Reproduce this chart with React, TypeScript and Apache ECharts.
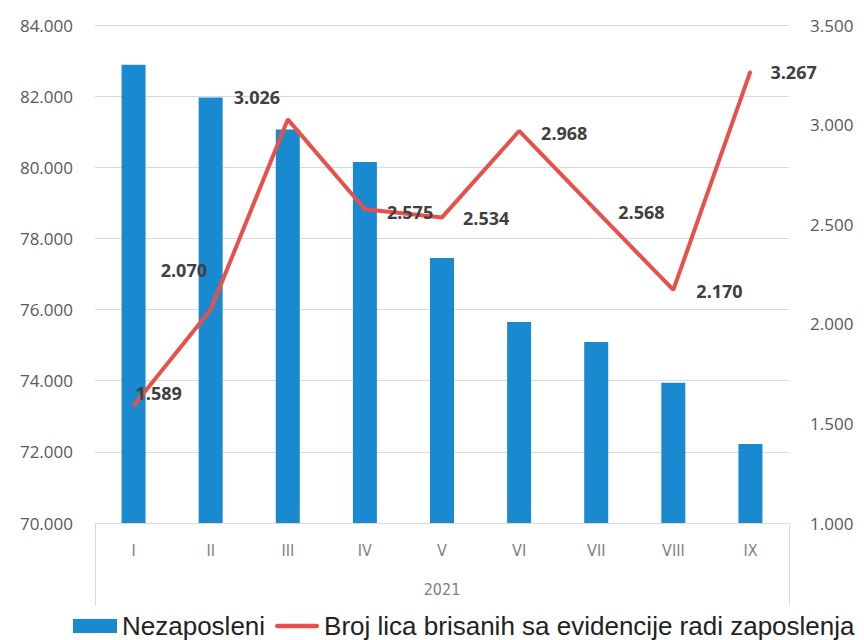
import React, { useEffect, useRef } from "react";
import * as echarts from "echarts";

const months = ["I", "II", "III", "IV", "V", "VI", "VII", "VIII", "IX"];
const yearLabel = ["2021"];
const unemployed = [82880, 81960, 81060, 80150, 77450, 75650, 75090, 73940, 72220];
const removedForEmployment = [1589, 2070, 3026, 2575, 2534, 2968, 2568, 2170, 3267];
const labelOffsets: [number, number][] = [
  [1, -13], [-51, -40], [-55, -22], [21, 3], [20, 1], [21, 2], [21, 1], [22, 1], [19, 1],
];

const fmt = (v: number) => (v / 1000).toFixed(3);

export default function App() {
  const ref = useRef<HTMLDivElement>(null);
  useEffect(() => {
    if (!ref.current) return;
    const chart = echarts.init(ref.current, undefined, { renderer: "svg" });
    const axisFont = { fontFamily: "Open Sans", fontSize: 17, color: "#595959" };
    const catFont = { fontFamily: "DejaVu Sans Condensed, Liberation Sans, sans-serif", fontSize: 16, color: "#7f7f7f" };
    chart.setOption({
      animation: false,
      backgroundColor: "#ffffff",
      grid: { left: 95, right: 75, top: 25, bottom: 117 },
      legend: {
        left: 68,
        top: 608,
        itemWidth: 44,
        itemHeight: 14,
        itemGap: 10,
        textStyle: { fontFamily: "Liberation Sans", fontSize: 26, color: "#222222" },
        data: [
          { name: "Nezaposleni", icon: "rect" },
          { name: "Broj lica brisanih sa evidencije radi zaposlenja", icon: "path://M2,0 H44 A2,2 0 0 1 44,5 H2 A2,2 0 0 1 2,0 Z" },
        ],
      },
      xAxis: [
        {
          type: "category",
          data: months,
          axisLine: { show: true, lineStyle: { color: "#d9d9d9", width: 1 } },
          axisTick: { show: false },
          axisLabel: { margin: 19, ...catFont },
        },
        {
          type: "category",
          data: yearLabel,
          position: "bottom",
          axisLine: { show: false },
          axisTick: { show: true, length: 82, lineStyle: { color: "#d9d9d9", width: 1 } },
          axisLabel: { margin: 58, ...catFont },
        },
      ],
      yAxis: [
        {
          type: "value",
          min: 70000,
          max: 84000,
          interval: 2000,
          axisLine: { show: false },
          axisTick: { show: false },
          splitLine: { show: true, lineStyle: { color: "#d9d9d9", width: 1 } },
          axisLabel: { ...axisFont, margin: 22, formatter: fmt },
        },
        {
          type: "value",
          min: 1000,
          max: 3500,
          interval: 500,
          position: "right",
          axisLine: { show: false },
          axisTick: { show: false },
          splitLine: { show: false },
          axisLabel: { ...axisFont, margin: 21, formatter: fmt },
        },
      ],
      series: [
        {
          name: "Nezaposleni",
          type: "bar",
          xAxisIndex: 0,
          yAxisIndex: 0,
          barWidth: 24,
          itemStyle: { color: "#1a8ad0" },
          data: unemployed,
        },
        {
          name: "Broj lica brisanih sa evidencije radi zaposlenja",
          type: "line",
          xAxisIndex: 0,
          yAxisIndex: 1,
          symbol: "circle",
          symbolSize: 2,
          itemStyle: { color: "#e8514b" },
          lineStyle: { color: "#e8514b", width: 4 },
          data: removedForEmployment.map((v, i) => ({
            value: v,
            label: {
              show: true,
              position: "right",
              distance: 0,
              offset: labelOffsets[i],
              formatter: (p: any) => fmt(p.value),
              fontFamily: "Open Sans",
              fontWeight: "bold",
              fontSize: 18,
              color: "#404040",
            },
          })),
        },
      ],
    });
    return () => chart.dispose();
  }, []);
  return <div ref={ref} style={{ width: 864, height: 640, position: "absolute", left: 0, top: 0 }} />;
}
